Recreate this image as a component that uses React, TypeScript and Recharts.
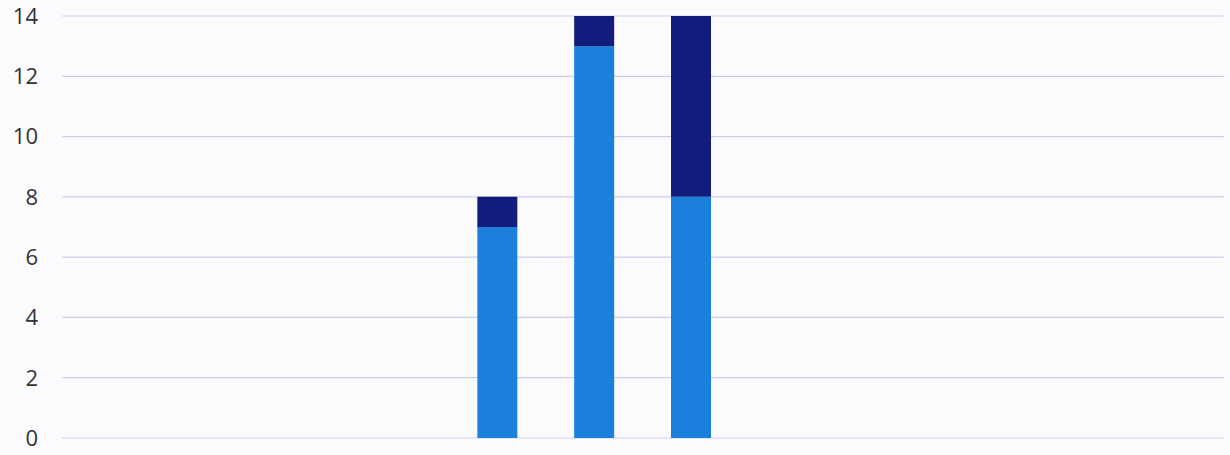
import React from 'react';
import { BarChart, Bar, XAxis, YAxis, CartesianGrid } from 'recharts';

const categories = ['1', '2', '3', '4', '5', '6', '7', '8', '9', '10', '11', '12'];
const lightSeries = [0, 0, 0, 0, 7, 13, 8, 0, 0, 0, 0, 0];
const darkSeries = [0, 0, 0, 0, 1, 1, 6, 0, 0, 0, 0, 0];
const yTicks = [0, 2, 4, 6, 8, 10, 12, 14];

const data = categories.map((c, i) => ({ name: c, light: lightSeries[i], dark: darkSeries[i] }));

export default function App() {
  return (
    <div style={{ position: 'absolute', left: 0, top: 0, width: 1230, height: 455, background: '#fbfbfe' }}>
      <BarChart width={1230} height={455} data={data} margin={{ top: 16, right: 6, bottom: 17, left: 0 }} barSize={40}>
        <CartesianGrid vertical={false} stroke="#cdcfee" strokeWidth={1.2} />
        <XAxis dataKey="name" hide />
        <YAxis
          width={62}
          domain={[0, 14]}
          ticks={yTicks}
          axisLine={false}
          tickLine={false}
          tickMargin={18}
          tick={{ fill: '#333333', fontSize: 22, fontFamily: 'Open Sans' }}
        />
        <Bar dataKey="light" stackId="a" fill="#1a80dc" isAnimationActive={false} />
        <Bar dataKey="dark" stackId="a" fill="#111c7c" isAnimationActive={false} />
      </BarChart>
    </div>
  );
}
